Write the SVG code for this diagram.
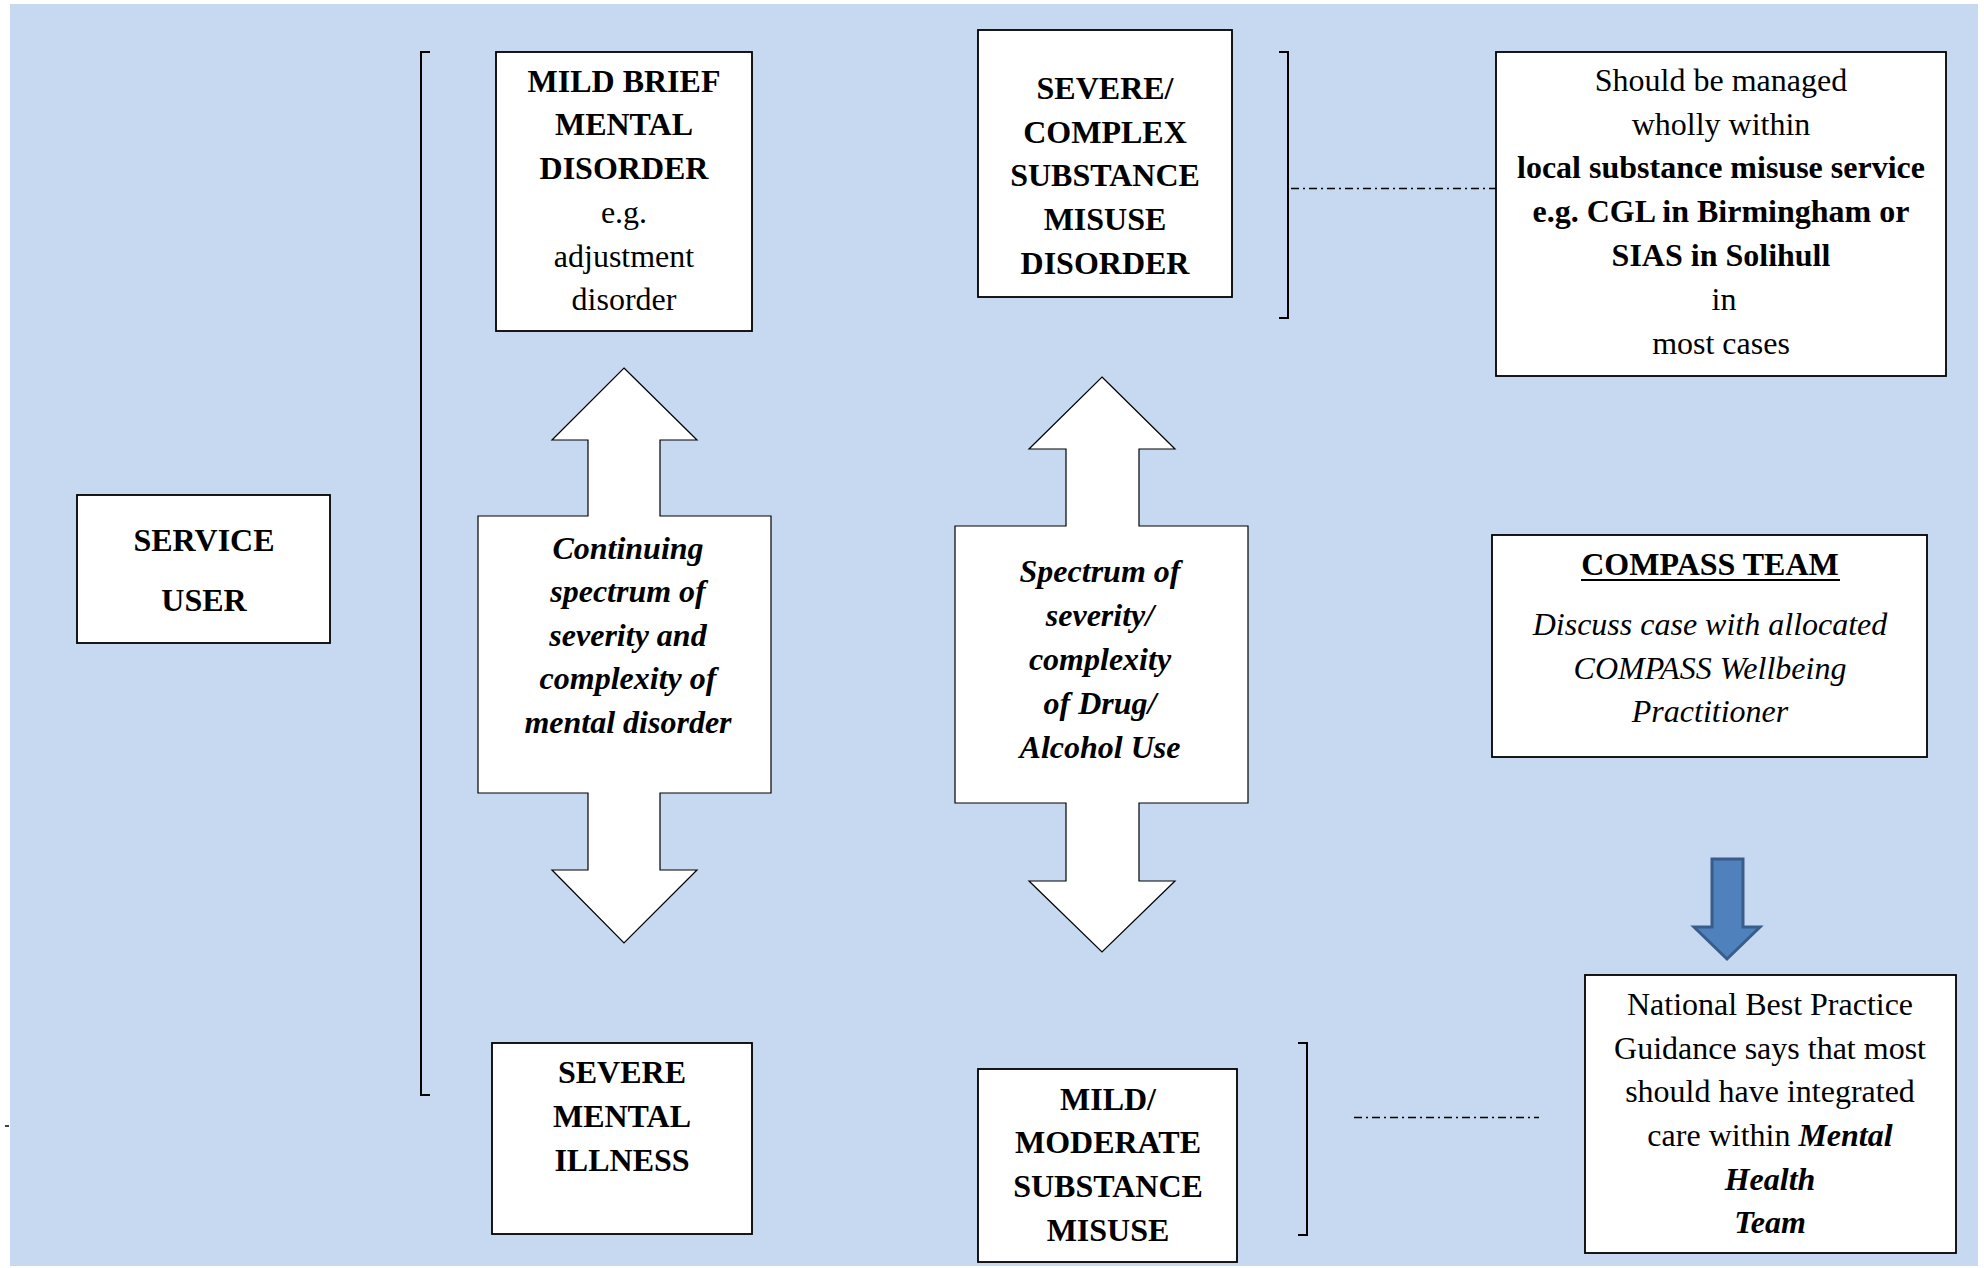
<svg xmlns="http://www.w3.org/2000/svg" width="1984" height="1268" viewBox="0 0 1984 1268">
  <style>
    .box { fill: #ffffff; stroke: #000000; stroke-width: 1.8; }
    .arrow { fill: #ffffff; stroke: #000000; stroke-width: 1.2; }
    .t { font-family: "Liberation Serif", "Times New Roman", serif; font-size: 32px; fill: #000000; text-anchor: middle; }
    .b { font-weight: bold; }
    .i { font-style: italic; }
    .bi { font-weight: bold; font-style: italic; }
    .brk { fill: none; stroke: #000000; stroke-width: 2; }
    .dd { fill: none; stroke: #000000; stroke-width: 1.5; stroke-dasharray: 8 4 2 4; }
  </style>
  <rect x="10" y="4" width="1968" height="1262" fill="#C6D9F1"/>
  <line x1="5" y1="1126" x2="9" y2="1126" stroke="#000" stroke-width="1.5"/>

  <g id="connectors">
    <path class="brk" d="M430,52 H421 V1095 H430"/>
    <path class="brk" d="M1279,52 H1288 V318 H1279"/>
    <path class="brk" d="M1298,1043 H1307 V1235 H1298"/>
    <line class="dd" x1="1291" y1="188.5" x2="1496" y2="188.5"/>
    <line class="dd" x1="1354" y1="1117.5" x2="1539" y2="1117.5"/>
    <polygon id="blue-arrow" points="1712,859 1743,859 1743,927 1760,927 1727,959 1694,927 1712,927" fill="#4F81BD" stroke="#385D8A" stroke-width="3" stroke-linejoin="miter"/>
  </g>

  <g id="service-user">
    <rect class="box" x="77" y="495" width="253" height="148"/>
    <text class="t b" x="204" y="551">SERVICE</text>
    <text class="t b" x="204" y="611">USER</text>
  </g>

  <g id="mild-brief">
    <rect class="box" x="496" y="52" width="256" height="279"/>
    <text class="t b" x="624" y="92">MILD BRIEF</text>
    <text class="t b" x="624" y="135">MENTAL</text>
    <text class="t b" x="624" y="179">DISORDER</text>
    <text class="t" x="624" y="223">e.g.</text>
    <text class="t" x="624" y="267">adjustment</text>
    <text class="t" x="624" y="310">disorder</text>
  </g>

  <g id="mental-spectrum">
    <polygon class="arrow" points="624,368 697,440 660,440 660,516 771,516 771,793 660,793 660,870 697,870 624,943 552,870 588,870 588,793 478,793 478,516 588,516 588,440 552,440"/>
    <text class="t bi" x="628" y="559">Continuing</text>
    <text class="t bi" x="628" y="602">spectrum of</text>
    <text class="t bi" x="628" y="646">severity and</text>
    <text class="t bi" x="628" y="689">complexity of</text>
    <text class="t bi" x="628" y="733">mental disorder</text>
  </g>

  <g id="severe-mental-illness">
    <rect class="box" x="492" y="1043" width="260" height="191"/>
    <text class="t b" x="622" y="1083">SEVERE</text>
    <text class="t b" x="622" y="1127">MENTAL</text>
    <text class="t b" x="622" y="1171">ILLNESS</text>
  </g>

  <g id="severe-complex">
    <rect class="box" x="978" y="30" width="254" height="267"/>
    <text class="t b" x="1105" y="99">SEVERE/</text>
    <text class="t b" x="1105" y="143">COMPLEX</text>
    <text class="t b" x="1105" y="186">SUBSTANCE</text>
    <text class="t b" x="1105" y="230">MISUSE</text>
    <text class="t b" x="1105" y="274">DISORDER</text>
  </g>

  <g id="substance-spectrum">
    <polygon class="arrow" points="1102,377 1175,449 1139,449 1139,526 1248,526 1248,803 1139,803 1139,881 1175,881 1102,952 1029,881 1066,881 1066,803 955,803 955,526 1066,526 1066,449 1029,449"/>
    <text class="t bi" x="1100" y="582">Spectrum of</text>
    <text class="t bi" x="1100" y="626">severity/</text>
    <text class="t bi" x="1100" y="670">complexity</text>
    <text class="t bi" x="1100" y="714">of Drug/</text>
    <text class="t bi" x="1100" y="758">Alcohol Use</text>
  </g>

  <g id="mild-moderate">
    <rect class="box" x="978" y="1069" width="259" height="193"/>
    <text class="t b" x="1108" y="1110">MILD/</text>
    <text class="t b" x="1108" y="1153">MODERATE</text>
    <text class="t b" x="1108" y="1197">SUBSTANCE</text>
    <text class="t b" x="1108" y="1241">MISUSE</text>
  </g>

  <g id="local-service">
    <rect class="box" x="1496" y="52" width="450" height="324"/>
    <text class="t" x="1721" y="91">Should be managed</text>
    <text class="t" x="1721" y="135">wholly within</text>
    <text class="t b" x="1721" y="178">local substance misuse service</text>
    <text class="t b" x="1721" y="222">e.g. CGL in Birmingham or</text>
    <text class="t b" x="1721" y="266">SIAS in Solihull</text>
    <text class="t" x="1724" y="310">in</text>
    <text class="t" x="1721" y="354">most cases</text>
  </g>

  <g id="compass-team">
    <rect class="box" x="1492" y="535" width="435" height="222"/>
    <text class="t b" x="1710" y="575">COMPASS TEAM</text>
    <line x1="1581" y1="580" x2="1840" y2="580" stroke="#000" stroke-width="2"/>
    <text class="t i" x="1710" y="635">Discuss case with allocated</text>
    <text class="t i" x="1710" y="679">COMPASS Wellbeing</text>
    <text class="t i" x="1710" y="722">Practitioner</text>
  </g>

  <g id="national-guidance">
    <rect class="box" x="1585" y="975" width="371" height="278"/>
    <text class="t" x="1770" y="1015">National Best Practice</text>
    <text class="t" x="1770" y="1059">Guidance says that most</text>
    <text class="t" x="1770" y="1102">should have integrated</text>
    <text class="t" x="1770" y="1146">care within <tspan class="bi">Mental</tspan></text>
    <text class="t bi" x="1770" y="1190">Health</text>
    <text class="t bi" x="1770" y="1233">Team</text>
  </g>
</svg>
